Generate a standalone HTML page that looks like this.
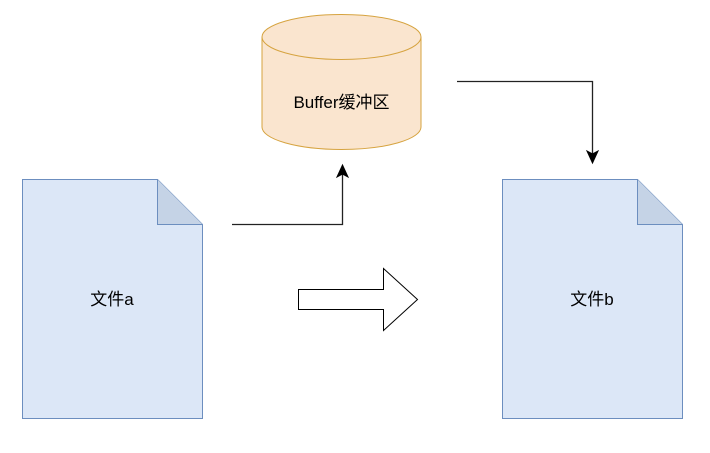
<!DOCTYPE html>
<html><head><style>body{margin:0;background:#fff}</style></head><body>
<svg width="710" height="448" xmlns="http://www.w3.org/2000/svg" font-family="Liberation Sans, Noto Sans CJK SC, sans-serif" font-size="17">
<path d="M262,37 L262,127 A79.5,22.5 0 0 0 421,127 L421,37" fill="#fae5cf" stroke="#d6a33f" stroke-width="1"/>
<ellipse cx="341.5" cy="37" rx="79.5" ry="22.5" fill="#fae5cf" stroke="#d6a33f"/>
<text x="341.5" y="108" text-anchor="middle">Buffer缓冲区</text>
<path d="M22.5,179.5 L157.5,179.5 L202.5,224.5 L202.5,418.5 L22.5,418.5 Z" fill="#dce7f7" stroke="#6c8ebf"/>
<path d="M157.5,179.5 L157.5,224.5 L202.5,224.5" fill="#c5d3e6" stroke="#6c8ebf"/>
<text x="112" y="305" text-anchor="middle">文件a</text>
<path d="M502.5,179.5 L637.5,179.5 L682.5,224.5 L682.5,418.5 L502.5,418.5 Z" fill="#dce7f7" stroke="#6c8ebf"/>
<path d="M637.5,179.5 L637.5,224.5 L682.5,224.5" fill="#c5d3e6" stroke="#6c8ebf"/>
<text x="592" y="305" text-anchor="middle">文件b</text>
<path d="M298.5,289.5 L383.5,289.5 L383.5,268.5 L417.5,299.5 L383.5,330.5 L383.5,309.5 L298.5,309.5 Z" fill="#fff" stroke="#000"/>
<path d="M232,224.5 L342.5,224.5 L342.5,174" fill="none" stroke="#222" stroke-width="1.3"/>
<path d="M342.5,165 L337,177 L342.5,174 L348,177 Z" fill="#000" stroke="#000"/>
<path d="M457,81.5 L592.5,81.5 L592.5,154" fill="none" stroke="#222" stroke-width="1.3"/>
<path d="M592.5,163 L587,151 L592.5,154 L598,151 Z" fill="#000" stroke="#000"/>
</svg>
</body></html>
